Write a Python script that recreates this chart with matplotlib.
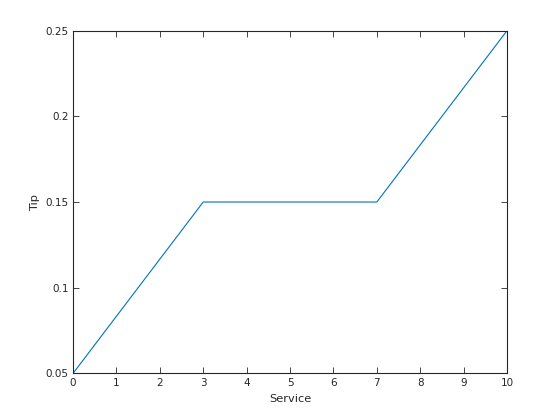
import matplotlib
matplotlib.use('Agg')
import matplotlib.pyplot as plt

service = [0, 3, 7, 10]
tip = [0.05, 0.15, 0.15, 0.25]
xticks = list(range(0, 11))
yticks = [0.05, 0.1, 0.15, 0.2, 0.25]
ytick_labels = ['0.05', '0.1', '0.15', '0.2', '0.25']

plt.rcParams['font.family'] = ['DejaVu Sans']
axcol = (0.15, 0.15, 0.15)

fig = plt.figure(figsize=(5.6, 4.2), dpi=100)
ax = fig.add_axes([0.1304, 0.111, 0.775, 0.816])
ax.plot(service, tip, color=(0, 0.447, 0.741), linewidth=0.8)

ax.set_xlim(0, 10)
ax.set_ylim(0.05, 0.25)
ax.set_xticks(xticks)
ax.set_yticks(yticks)
ax.set_yticklabels(ytick_labels)
ax.tick_params(direction='in', length=4, width=0.6, colors=axcol,
               labelsize=7.5, top=True, right=True, pad=3)
for s in ax.spines.values():
    s.set_color(axcol)
    s.set_linewidth(0.8)

ax.set_xlabel('Service', fontsize=8.2, color=axcol, labelpad=5)
ax.set_ylabel('Tip', fontsize=8.2, color=axcol, labelpad=4)

fig.savefig('out.png', dpi=100)
